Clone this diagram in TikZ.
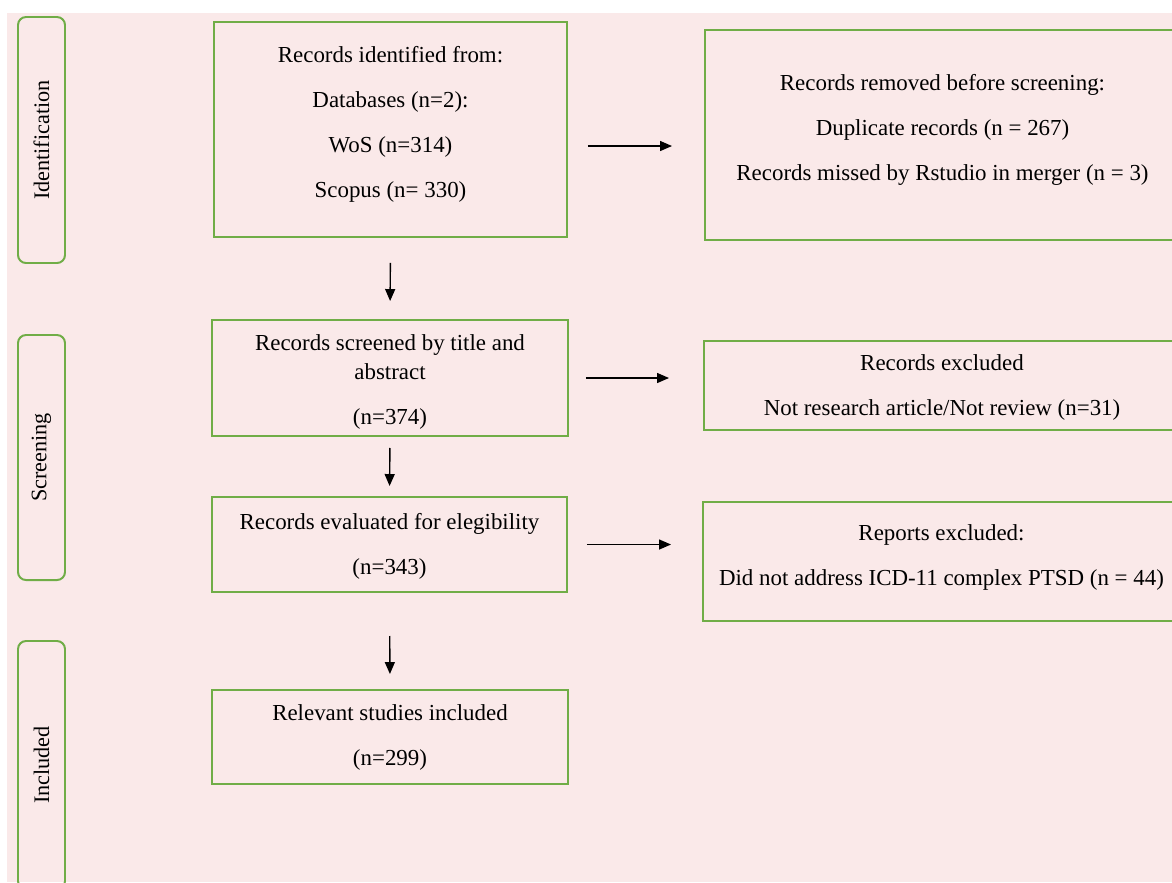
\documentclass[tikz,border=0pt]{standalone}
\usepackage{fontspec}
\setmainfont{Liberation Serif}
\usetikzlibrary{calc,arrows.meta}

\definecolor{boxgreen}{RGB}{112,173,71}
\definecolor{pagepink}{RGB}{250,233,233}
\newcommand{\vgap}{11.4pt}

\begin{document}
\begin{tikzpicture}[x={0.25mm},y={-0.25mm},
  box/.style={draw=boxgreen, line width=1.4pt, align=center, inner sep=0pt,
    font=\fontsize{16.3}{20.6}\selectfont},
  phase/.style={draw=boxgreen, line width=1.4pt, rounded corners=0.2cm, rotate=90,
    minimum height=1.175cm, inner sep=0pt, font=\fontsize{15.8}{18}\selectfont},
  flow/.style={-{Triangle[length=0.3cm,width=0.25cm]}, line width=1pt}]
\useasboundingbox (0,0) rectangle (1172,882);
\clip (0,0) rectangle (1172,882);
\fill[white] (0,0) rectangle (1172,882);
\fill[pagepink] (7,13) rectangle (1172,882);

% phase labels
\node[phase, minimum width=6.15cm] (idphase) at (41.5,140) {Identification};
\node[phase, minimum width=6.125cm] (scrphase) at (41.5,457.5) {Screening};
\node[phase, minimum width=6.2cm] (incphase) at (41.5,765) {Included};

% main column
\node[box, minimum width=8.825cm, minimum height=5.375cm, text depth=10.8pt] (idbox) at (390.5,129.5)
  {Records identified from:\\[\vgap] Databases (n=2):\\[\vgap] WoS (n=314)\\[\vgap] Scopus (n= 330)};
\node[box, minimum width=8.9cm, minimum height=2.9cm, text height=69.5pt] (scrbox) at (390,378)
  {Records screened by title and\\ abstract\\[\vgap] (n=374)};
\node[box, minimum width=8.875cm, minimum height=2.375cm, text height=46pt] (evbox) at (389.5,544.5)
  {Records evaluated for elegibility\\[\vgap] (n=343)};
\node[box, minimum width=8.9cm, minimum height=2.35cm] (incbox) at (390,737)
  {Relevant studies included\\[\vgap] (n=299)};

% excluded column
\node[box, minimum width=11.875cm, minimum height=5.25cm, text depth=10.1pt] (rembox) at (942.5,135)
  {Records removed before screening:\\[\vgap] Duplicate records (n = 267)\\[\vgap] Records missed by Rstudio in merger (n = 3)};
\node[box, minimum width=11.9cm, minimum height=2.225cm, text height=46.8pt] (exbox) at (942,385.5)
  {Records excluded\\[\vgap] Not research article/Not review (n=31)};
\node[box, minimum width=11.925cm, minimum height=2.975cm, text depth=9.4pt] (repbox) at (941.5,561.5)
  {Reports excluded:\\[\vgap] Did not address ICD-11 complex PTSD (n = 44)};

% arrows down
\draw[flow, shorten <=0.625cm, shorten >=0.45cm] (idbox.south) -- (scrbox.north);
\draw[flow, shorten <=0.275cm, shorten >=0.25cm] (scrbox.south) -- (evbox.north);
\draw[flow, shorten <=1.075cm, shorten >=0.375cm] (evbox.south) -- (incbox.north);

% arrows right
\coordinate (rem) at ($(idbox.east)+(0,16.5)$);
\draw[flow, shorten <=0.5cm, shorten >=0.8cm] (rem) -- (rem -| rembox.west);
\draw[flow, shorten <=0.425cm, shorten >=0.85cm] (scrbox.east) -- (scrbox.east -| exbox.west);
\draw[flow, shorten <=0.475cm, shorten >=0.775cm] (evbox.east) -- (evbox.east -| repbox.west);

\end{tikzpicture}
\end{document}
